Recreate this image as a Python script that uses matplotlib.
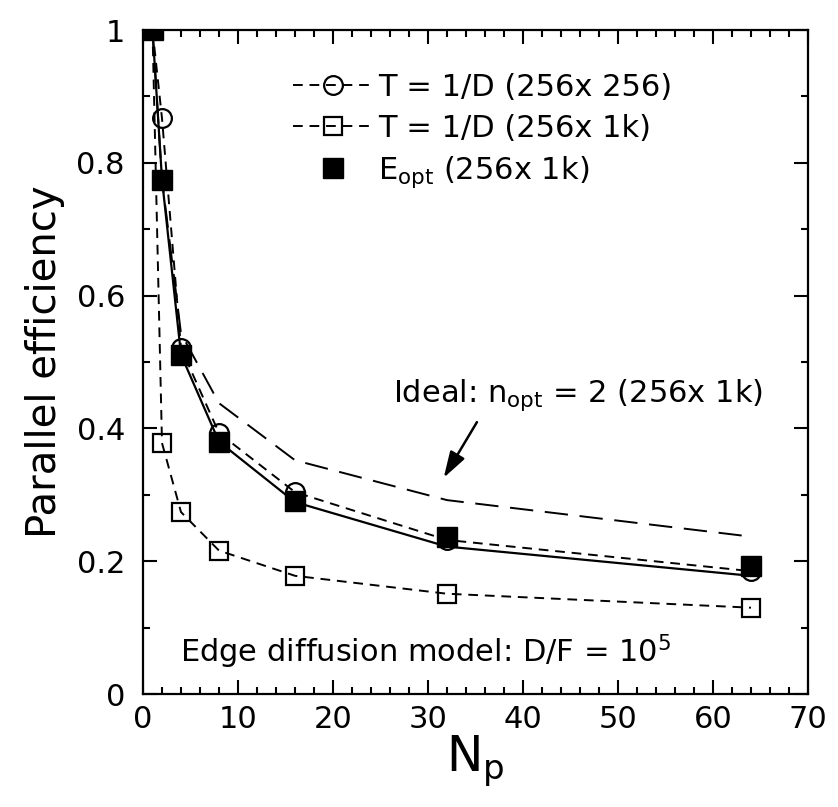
import matplotlib
matplotlib.use('Agg')
import matplotlib.pyplot as plt
from matplotlib.ticker import MultipleLocator

plt.rcParams['font.family'] = ['DejaVu Sans']
plt.rcParams['mathtext.default'] = 'regular'

# data
n_proc = [1, 2, 4, 8, 16, 32, 64]
t_256x256 = [1.0, 0.867, 0.521, 0.393, 0.304, 0.232, 0.185]
t_256x1k = [1.0, 0.378, 0.274, 0.216, 0.178, 0.151, 0.130]
e_opt_pts = [1.0, 0.774, 0.511, 0.380, 0.290, 0.236, 0.193]
e_opt_line = [1.0, 0.775, 0.511, 0.380, 0.289, 0.222, 0.178]
ideal = [1.0, 0.775, 0.543, 0.438, 0.352, 0.292, 0.237]

y_ticks = [0, 0.2, 0.4, 0.6, 0.8, 1.0]
y_tick_labels = ['0', '0.2', '0.4', '0.6', '0.8', '1']
x_ticks = [0, 10, 20, 30, 40, 50, 60, 70]

fig = plt.figure(figsize=(8.38, 8.07), dpi=100)
ax = fig.add_axes([143 / 838, 1 - 694 / 807, 665 / 838, 664 / 807])

short_dash = (0, (5, 3.5))
long_dash = (0, (12, 6))

ax.plot(n_proc, ideal, color='black', lw=1.4, linestyle=long_dash, zorder=2)
ax.plot(n_proc, e_opt_line, color='black', lw=1.6, linestyle='-', zorder=2)
ax.plot(n_proc, t_256x256, color='black', lw=1.4, linestyle=short_dash,
        marker='o', markersize=13.5, markerfacecolor='none',
        markeredgewidth=1.6, label='T = 1/D (256x 256)', zorder=3)
ax.plot(n_proc, t_256x1k, color='black', lw=1.4, linestyle=short_dash,
        marker='s', markersize=13.5, markerfacecolor='none',
        markeredgewidth=1.6, label='T = 1/D (256x 1k)', zorder=3)
ax.plot(n_proc, e_opt_pts, color='black', linestyle='none',
        marker='s', markersize=15, label='E$_{opt}$ (256x 1k)', zorder=4)

ax.set_xlim(0, 70)
ax.set_ylim(0, 1)
ax.set_xticks(x_ticks)
ax.set_yticks(y_ticks)
ax.set_yticklabels(y_tick_labels)
ax.xaxis.set_minor_locator(MultipleLocator(2))
ax.yaxis.set_minor_locator(MultipleLocator(0.1))
ax.tick_params(which='both', direction='in', top=True, right=True, width=1.5)
ax.tick_params(which='major', length=10, labelsize=22)
ax.tick_params(which='minor', length=5)
ax.tick_params(axis='x', which='major', pad=8)
ax.tick_params(axis='y', which='major', pad=13)
for s in ax.spines.values():
    s.set_linewidth(1.6)

ax.set_xlabel('N$_p$', fontsize=35, labelpad=0)
ax.set_ylabel('Parallel efficiency', fontsize=29, labelpad=8)

ax.legend(loc='upper left', bbox_to_anchor=(0.225, 0.935), frameon=False,
          fontsize=22, numpoints=1, handlelength=2.65, handletextpad=0.15,
          labelspacing=0.38, borderpad=0, borderaxespad=0)

ax.text(26.3, 0.44, 'Ideal: n$_{opt}$ = 2 (256x 1k)', fontsize=22)
ax.annotate('', xy=(31.5, 0.322), xytext=(35.3, 0.413),
            arrowprops=dict(arrowstyle='-|>,head_length=1.6,head_width=0.5',
                            color='black', lw=1.8))
ax.text(3.9, 0.048, 'Edge diffusion model: D/F = 10$^5$', fontsize=22)

fig.savefig('out.png', dpi=100)
